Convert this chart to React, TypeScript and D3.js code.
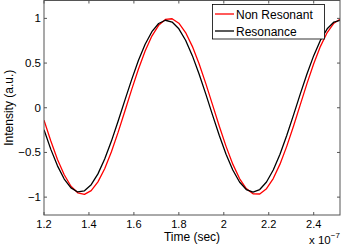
import React from 'react';
import * as d3 from 'd3';

// time axis in units of 1e-7 sec
const time = [
  1.2, 1.23, 1.26, 1.29, 1.32, 1.35, 1.38, 1.41, 1.44, 1.47, 1.5, 1.53, 1.56, 1.59, 1.62,
  1.65, 1.68, 1.71, 1.74, 1.77, 1.8, 1.83, 1.86, 1.89, 1.92, 1.95, 1.98, 2.01, 2.04, 2.07,
  2.1, 2.13, 2.16, 2.19, 2.22, 2.25, 2.28, 2.31, 2.34, 2.37, 2.4, 2.43, 2.46, 2.49, 2.52,
];

const nonResonant = [
  -0.139, -0.37, -0.578, -0.75, -0.878, -0.952, -0.969, -0.927, -0.829, -0.682, -0.492,
  -0.273, -0.037, 0.203, 0.431, 0.635, 0.802, 0.922, 0.988, 0.996, 0.946, 0.841, 0.687,
  0.493, 0.27, 0.032, -0.207, -0.432, -0.631, -0.792, -0.905, -0.963, -0.965, -0.905,
  -0.792, -0.631, -0.432, -0.207, 0.032, 0.27, 0.493, 0.687, 0.841, 0.946, 0.996,
];

const resonance = [
  -0.247, -0.463, -0.65, -0.798, -0.897, -0.942, -0.929, -0.861, -0.74, -0.574, -0.373,
  -0.149, 0.085, 0.315, 0.528, 0.71, 0.851, 0.943, 0.979, 0.959, 0.883, 0.755, 0.583,
  0.378, 0.152, -0.083, -0.311, -0.52, -0.697, -0.831, -0.915, -0.944, -0.915, -0.831,
  -0.697, -0.52, -0.311, -0.083, 0.152, 0.378, 0.583, 0.755, 0.883, 0.959, 0.979,
];

const xTicks = [1.2, 1.4, 1.6, 1.8, 2, 2.2, 2.4];
const yTicks = [-1, -0.5, 0, 0.5, 1];

const series = [
  { name: 'Non Resonant', color: '#ff0000', values: nonResonant },
  { name: 'Resonance', color: '#000000', values: resonance },
];

const W = 343;
const H = 246;
const plot = { left: 44, right: 340, top: 0.5, bottom: 215 };
const font = "'Liberation Sans', Arial, sans-serif";

const fmt = (v: number) => (v < 0 ? '\u2212' + String(-v) : String(v));

const App = () => {
  const x = d3.scaleLinear().domain([1.2, 2.517]).range([plot.left, plot.right]);
  const y = d3.scaleLinear().domain([-1.2, 1.2]).range([plot.bottom, plot.top]);

  const line = d3
    .line<number>()
    .x((d, i) => x(time[i]))
    .y((d) => y(d));

  const axisColor = '#555';
  const tickLen = 3;

  return (
    <div style={{ position: 'fixed', left: 0, top: 0 }}>
      <svg width={W} height={H} style={{ display: 'block', background: '#fff' }}>
        <defs>
          <clipPath id="plot-clip">
            <rect
              x={plot.left}
              y={plot.top}
              width={plot.right - plot.left}
              height={plot.bottom - plot.top}
            />
          </clipPath>
        </defs>
        <rect x={0} y={0} width={W} height={H} fill="#fff" />

        <g clipPath="url(#plot-clip)">
          {series.map((s) => (
            <path
              key={s.name}
              d={line(s.values) || ''}
              fill="none"
              stroke={s.color}
              strokeWidth={1.3}
              strokeLinejoin="round"
            />
          ))}
        </g>

        {/* box */}
        <rect
          x={plot.left}
          y={plot.top}
          width={plot.right - plot.left}
          height={plot.bottom - plot.top}
          fill="none"
          stroke={axisColor}
          strokeWidth={1}
        />

        {/* x ticks */}
        {xTicks.map((t) => (
          <g key={'x' + t}>
            <line x1={x(t)} x2={x(t)} y1={plot.bottom} y2={plot.bottom - tickLen} stroke={axisColor} />
            <line x1={x(t)} x2={x(t)} y1={plot.top} y2={plot.top + tickLen} stroke={axisColor} />
            <text
              x={x(t)}
              y={227.5}
              textAnchor="middle"
              fontFamily={font}
              fontSize={11}
              fill="#000"
            >
              {fmt(t)}
            </text>
          </g>
        ))}

        {/* y ticks */}
        {yTicks.map((t) => (
          <g key={'y' + t}>
            <line x1={plot.left} x2={plot.left + tickLen} y1={y(t)} y2={y(t)} stroke={axisColor} />
            <line x1={plot.right} x2={plot.right - tickLen} y1={y(t)} y2={y(t)} stroke={axisColor} />
            <text
              x={41}
              y={y(t) + 4}
              textAnchor="end"
              fontFamily={font}
              fontSize={11.5}
              fill="#000"
            >
              {fmt(t)}
            </text>
          </g>
        ))}

        {/* axis labels */}
        <text x={(plot.left + plot.right) / 2} y={241} textAnchor="middle" fontFamily={font} fontSize={12}>
          Time (sec)
        </text>
        <text
          transform={`translate(13, ${(plot.top + plot.bottom) / 2}) rotate(-90)`}
          textAnchor="middle"
          fontFamily={font}
          fontSize={12}
        >
          Intensity (a.u.)
        </text>
        <text x={309} y={244} fontFamily={font} fontSize={11.5}>
          x 10
          <tspan dy={-6} fontSize={8}>
            {'\u22127'}
          </tspan>
        </text>

        {/* legend */}
        <g>
          <rect x={212.5} y={4.5} width={112} height={34.5} fill="#fff" stroke="#000" strokeWidth={0.8} />
          {series.map((s, i) => (
            <g key={'lg' + s.name} transform={`translate(0, ${14 + i * 17})`}>
              <line x1={215} x2={234} y1={0} y2={0} stroke={s.color} strokeWidth={1.3} />
              <text x={236} y={4.5} fontFamily={font} fontSize={12}>
                {s.name}
              </text>
            </g>
          ))}
        </g>
      </svg>
    </div>
  );
};

export default App;
